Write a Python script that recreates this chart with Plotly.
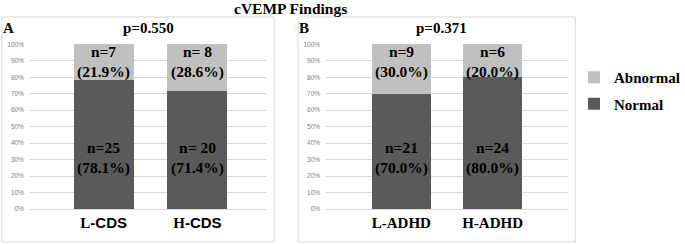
import plotly.graph_objects as go

# ---- data ----
categories_a = ["L-CDS", "H-CDS"]
normal_pct_a = [78.1, 71.4]
abnormal_pct_a = [21.9, 28.6]
normal_lbl_a = ["n=25<br>(78.1%)", "n= 20<br>(71.4%)"]
abnormal_lbl_a = ["n=7<br>(21.9%)", "n= 8<br>(28.6%)"]
p_a = "p=0.550"

categories_b = ["L-ADHD", "H-ADHD"]
normal_pct_b = [70.0, 80.0]
abnormal_pct_b = [30.0, 20.0]
normal_lbl_b = ["n=21<br>(70.0%)", "n=24<br>(80.0%)"]
abnormal_lbl_b = ["n=9<br>(30.0%)", "n=6<br>(20.0%)"]
p_b = "p=0.371"

tick_labels_a = ['<b>L</b><b><span style="font-family:Liberation Sans">-CDS</span></b>',
                 '<b>H</b><b><span style="font-family:Liberation Sans">-CDS</span></b>']
tick_labels_b = ["<b>L-ADHD</b>", "<b>H-ADHD</b>"]

y_tick_vals = [0, 10, 20, 30, 40, 50, 60, 70, 80, 90, 100]
y_tick_text = ["0%", "10%", "20%", "30%", "40%", "50%", "60%", "70%", "80%", "90%", "100%"]

W, H = 685, 244
def px(x):
    return x / W
def py(y):
    return 1 - y / H

SERIF = "Liberation Serif"
SANS = "Liberation Sans"
NORMAL_C = "#5a5a5a"
ABN_C = "#c0c0c0"
GRID_C = "#d9d9d9"

fig = go.Figure()

panels = [
    (categories_a, normal_pct_a, abnormal_pct_a, "x", "y", True),
    (categories_b, normal_pct_b, abnormal_pct_b, "x2", "y2", False),
]
for cats, nv, av, xa, ya, show in panels:
    fig.add_trace(go.Bar(x=cats, y=nv, name="Normal", marker_color=NORMAL_C,
                         width=0.64, xaxis=xa, yaxis=ya, showlegend=show,
                         legendgroup="n", legendrank=2, hoverinfo="skip"))
    fig.add_trace(go.Bar(x=cats, y=av, name="Abnormal", marker_color=ABN_C,
                         width=0.64, xaxis=xa, yaxis=ya, showlegend=show,
                         legendgroup="a", legendrank=1, hoverinfo="skip"))

def ann(x, y, text, size, xref="paper", yref="paper"):
    return dict(x=x, y=y, xref=xref, yref=yref, text="<b>" + text + "</b>",
                xanchor="center", yanchor="middle", showarrow=False,
                font=dict(family=SERIF, size=size, color="black"))

annotations = []
for cats, nl, al, xa, ya in [(categories_a, normal_lbl_a, abnormal_lbl_a, "x", "y"),
                             (categories_b, normal_lbl_b, abnormal_lbl_b, "x2", "y2")]:
    for c, n_t, a_t in zip(cats, nl, al):
        annotations.append(ann(c, 89, a_t, 15.5, xa, ya))
        annotations.append(ann(c, 31, n_t, 15.5, xa, ya))

annotations += [
    ann(px(291), py(9), "cVEMP Findings", 15.5),
    ann(px(9), py(28), "A", 15),
    ann(px(305), py(28), "B", 15),
    ann(px(149), py(28), p_a, 15),
    ann(px(443), py(28), p_b, 15),
]

shapes = [
    dict(type="rect", xref="paper", yref="paper", x0=px(2), x1=px(275), y0=py(242), y1=py(17),
         line=dict(color=GRID_C, width=1), layer="below"),
    dict(type="rect", xref="paper", yref="paper", x0=px(299), x1=px(577), y0=py(242), y1=py(17),
         line=dict(color=GRID_C, width=1), layer="below"),
]

yax = dict(range=[0, 100.2], tickmode="array", tickvals=y_tick_vals, ticktext=y_tick_text,
           showgrid=True, gridcolor=GRID_C, gridwidth=1, zeroline=True, zerolinecolor=GRID_C,
           tickfont=dict(family=SANS, size=6.5, color="#808080"), showline=False,
           ticks="", ticklabelstandoff=5, fixedrange=True, automargin=False,
           domain=[py(209), py(44)])

fig.update_layout(
    template="none",
    width=W, height=H, autosize=False, margin=dict(l=0, r=0, t=0, b=0, pad=0),
    paper_bgcolor="white", plot_bgcolor="white",
    barmode="stack", bargap=0,
    font=dict(family=SERIF, color="black"),
    xaxis=dict(domain=[px(30), px(267)], range=[-0.787, 1.734], anchor="y",
               tickvals=categories_a, ticktext=tick_labels_a, ticks="", showline=False,
               showgrid=False, zeroline=False, automargin=False, fixedrange=True,
               tickfont=dict(family=SERIF, size=15, color="black"), ticklabelstandoff=3),
    yaxis=dict(anchor="x", **yax),
    xaxis2=dict(domain=[px(327), px(570)], range=[-0.825, 1.83], anchor="y2",
                tickvals=categories_b, ticktext=tick_labels_b, ticks="", showline=False,
                showgrid=False, zeroline=False, automargin=False, fixedrange=True,
                tickfont=dict(family=SERIF, size=15, color="black"), ticklabelstandoff=3),
    yaxis2=dict(anchor="x2", **yax),
    legend=dict(x=px(576), y=py(61), xanchor="left", yanchor="top",
                font=dict(family=SERIF, size=15, color="black", weight="bold"),
                traceorder="grouped", tracegroupgap=4, itemwidth=30,
                bgcolor="rgba(0,0,0,0)", borderwidth=0),
    annotations=annotations, shapes=shapes,
)

fig.write_html("out.html", config={"displayModeBar": False, "staticPlot": True},
               post_script="document.body.style.margin='0';document.body.style.overflow='hidden';")
